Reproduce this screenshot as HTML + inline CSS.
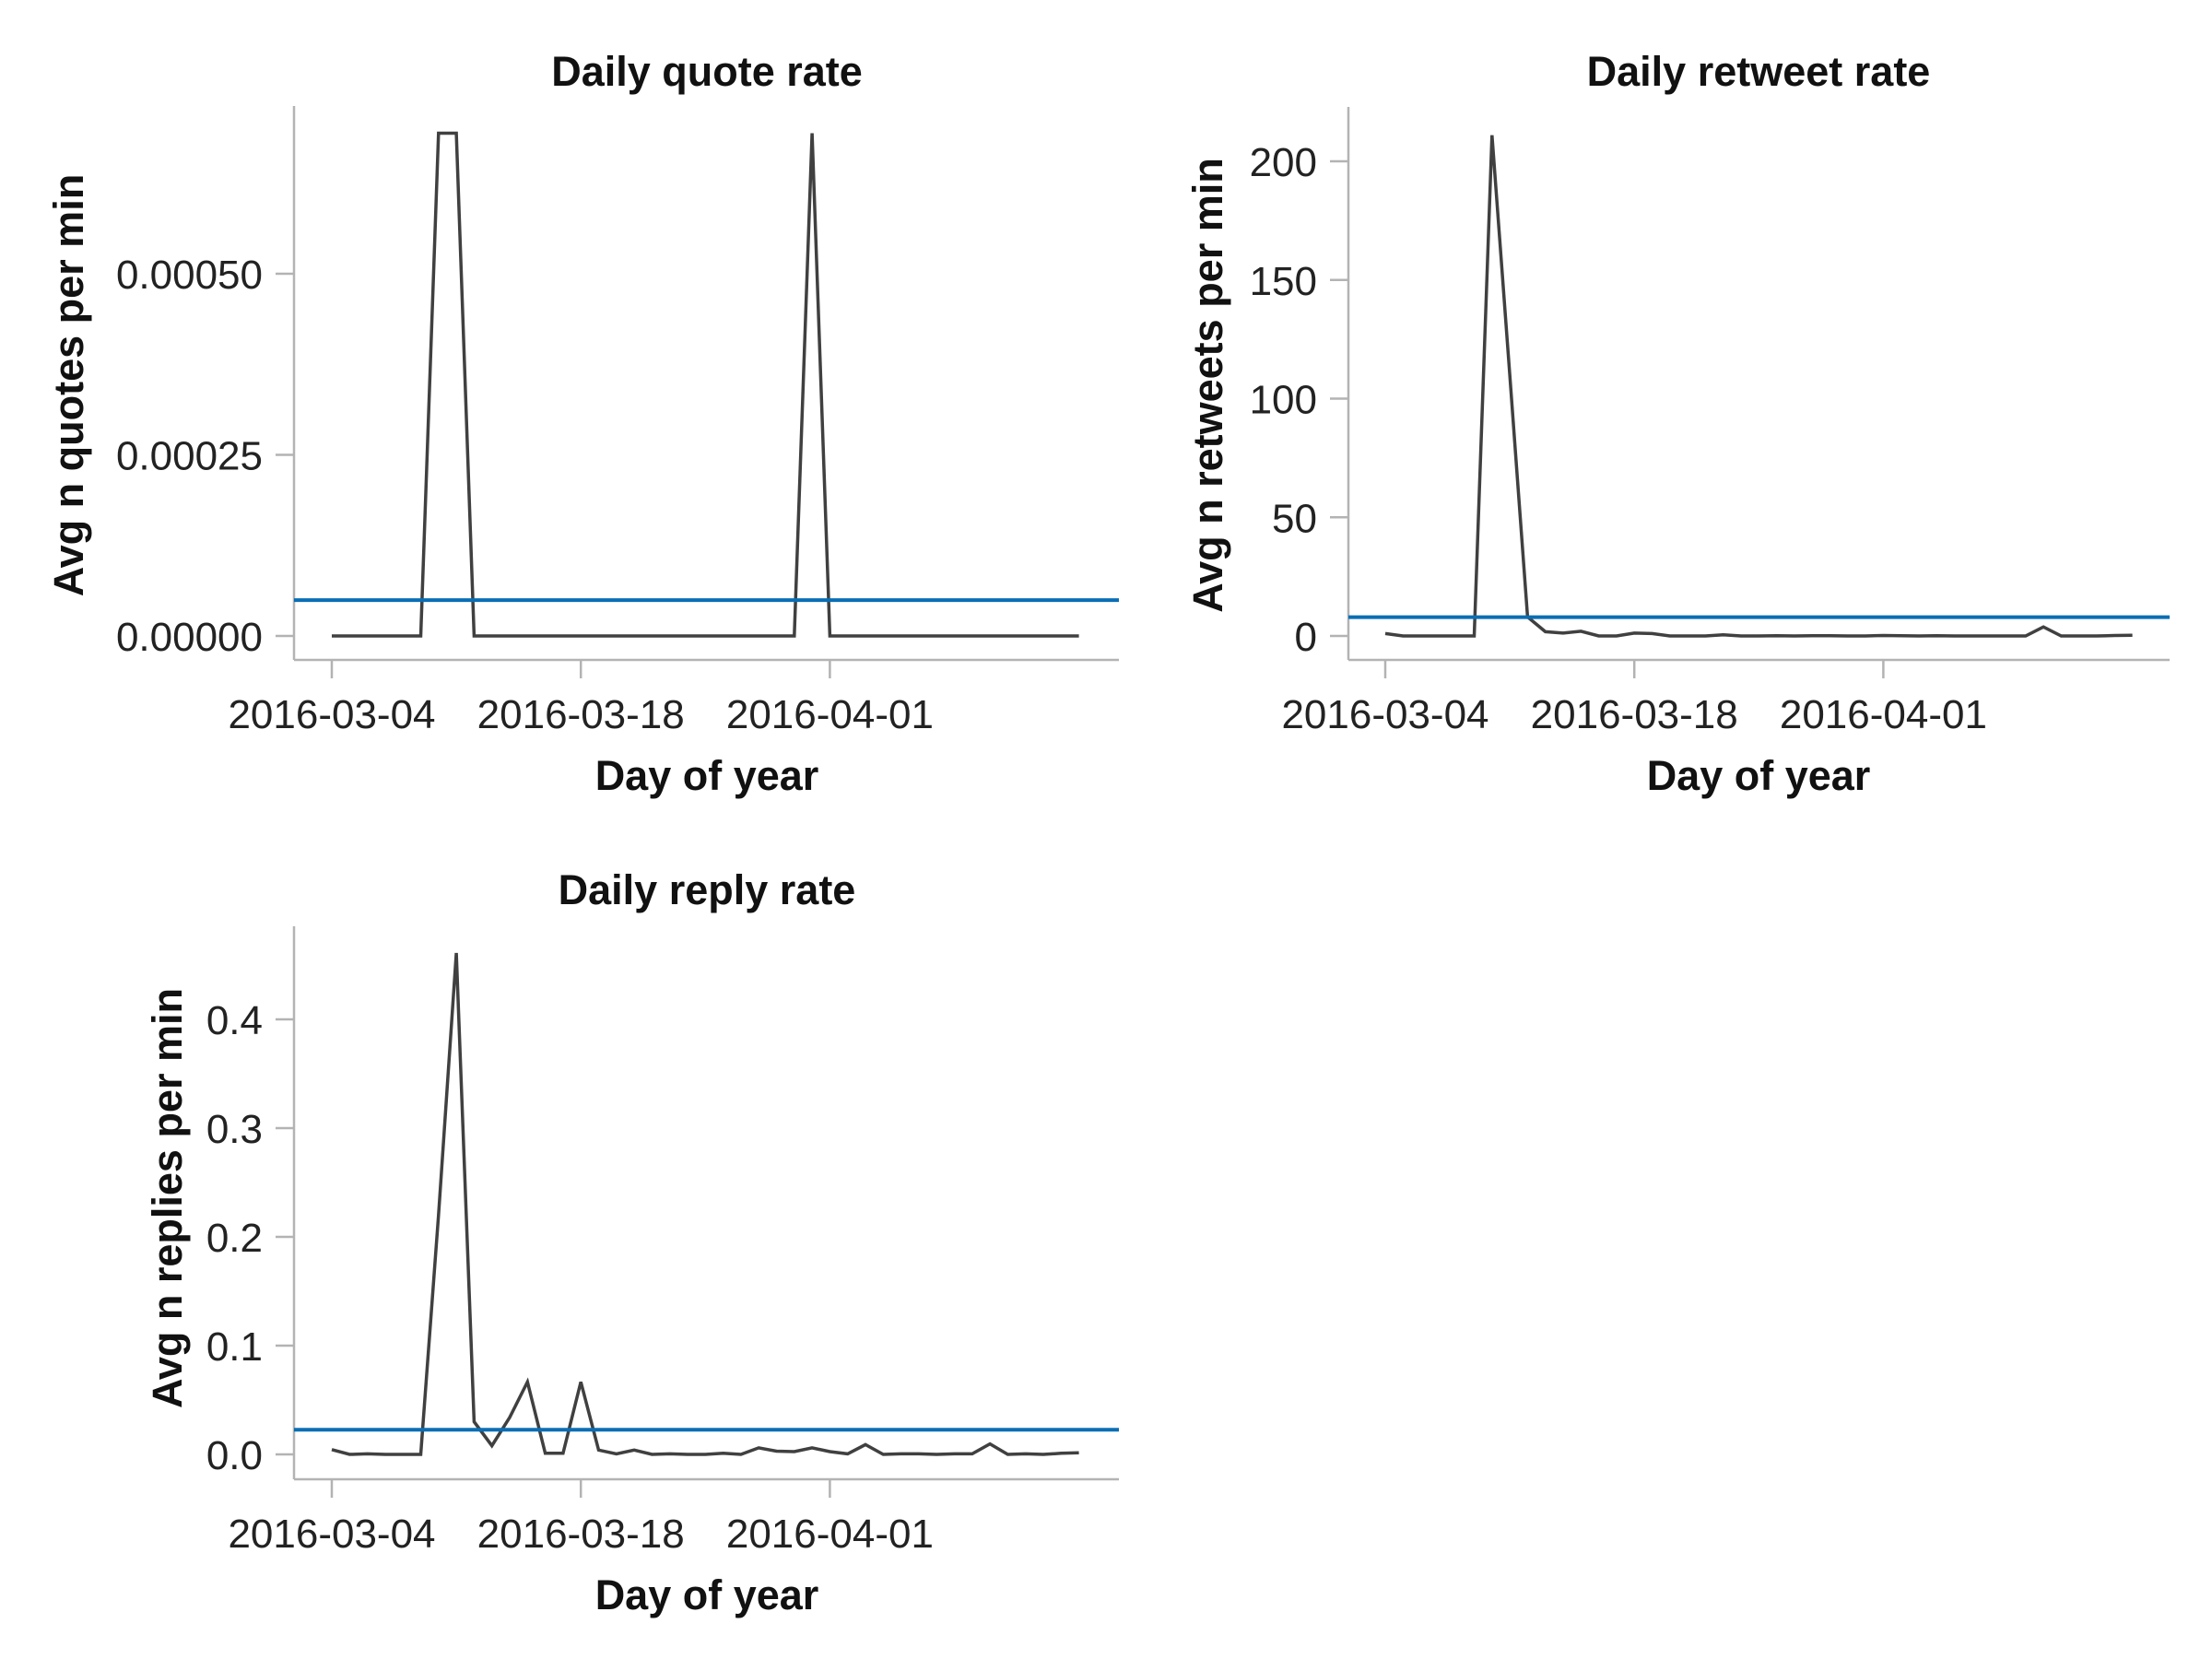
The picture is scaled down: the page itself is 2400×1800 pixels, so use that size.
<!DOCTYPE html>
<html><head><meta charset="utf-8"><style>
html,body{margin:0;padding:0;background:#fff;}
svg{display:block;font-family:"Liberation Sans",sans-serif;}
.tick{font-size:44px;fill:#222;}
.title{font-size:45px;font-weight:bold;fill:#111;}
</style></head><body>
<svg id="chart" width="2400" height="1800" viewBox="0 0 2400 1800" xmlns="http://www.w3.org/2000/svg"></svg>
<script>
const xTickLabels = ["2016-03-04","2016-03-18","2016-04-01"];
const xTickDays = [0,14,28];
const quoteValues = [0,0,0,0,0,0,0.000694,0.000694,0,0,0,0,0,0,0,0,0,0,0,0,0,0,0,0,0,0,0,0.000694,0,0,0,0,0,0,0,0,0,0,0,0,0,0,0];
const quoteMean = 0.0000495;
const quoteTicks = [0,0.00025,0.0005];
const quoteTickLabels = ["0.00000","0.00025","0.00050"];
const retweetValues = [1,0,0,0,0,0,211,110,8,1.8,1.2,2,0,0,1.2,1,0,0,0,0.5,0,0,0.1,0,0.1,0.1,0,0,0.2,0.1,0,0.1,0,0,0,0,0,3.8,0,0,0,0.2,0.3];
const retweetMean = 7.9;
const retweetTicks = [0,50,100,150,200];
const retweetTickLabels = ["0","50","100","150","200"];
const replyValues = [0.0044,0,0.0005,0,0,0,0.22,0.461,0.030,0.008,0.034,0.0666,0.001,0.001,0.0666,0.004,0.0005,0.004,0,0.0005,0,0,0.001,0,0.006,0.003,0.0025,0.006,0.0025,0.0005,0.009,0,0.0005,0.0005,0,0.0005,0.0005,0.0097,0,0.0005,0,0.001,0.0015];
const replyMean = 0.0227;
const replyTicks = [0,0.1,0.2,0.3,0.4];
const replyTickLabels = ["0.0","0.1","0.2","0.3","0.4"];

const svg = document.getElementById('chart');
const NS = 'http://www.w3.org/2000/svg';
function mk(tag, attrs, parent){const e=document.createElementNS(NS,tag);for(const k in attrs)e.setAttribute(k,attrs[k]);parent.appendChild(e);return e;}

function panel(o){
  const g = mk('g',{},svg);
  
  
  const x = d => o.x0 + d*o.dx;
  const y = v => o.y0 - (v - o.t0)/(o.t1 - o.t0)*(o.y0 - o.y1);
  const ya = mk('line',{x1:o.ax,y1:o.top,x2:o.ax,y2:o.bot,stroke:'#b3b3b3','stroke-width':2.5},g);
  
  
  const xa = mk('line',{x1:o.ax,y1:o.bot,x2:o.right,y2:o.bot,stroke:'#b3b3b3','stroke-width':2.5},g);
  
  
  o.ticks.forEach((t,i)=>{
    const yy=y(t);
    const tl = mk('line',{x1:o.ax-20,y1:yy,x2:o.ax,y2:yy,stroke:'#b3b3b3','stroke-width':2.5},g);
    
    
    const tx = mk('text',{x:o.ax-34,y:yy+16,'text-anchor':'end',class:'tick'},g);
    tx.textContent=o.tickLabels[i];
    
    
  });
  xTickDays.forEach((d,i)=>{
    const xx=x(d);
    const tl = mk('line',{x1:xx,y1:o.bot,x2:xx,y2:o.bot+20,stroke:'#b3b3b3','stroke-width':2.5},g);
    
    
    const tx = mk('text',{x:xx,y:o.bot+74,'text-anchor':'middle',class:'tick'},g);
    tx.textContent=xTickLabels[i];
    
    
  });
  const pts = o.values.map((v,i)=>x(i).toFixed(1)+','+y(v).toFixed(1)).join(' ');
  const pl = mk('polyline',{points:pts,fill:'none',stroke:'#404040','stroke-width':3.5,'stroke-linejoin':'miter'},g);
  
  
  const my = y(o.mean);
  const ml = mk('line',{x1:o.ax,y1:my,x2:o.right,y2:my,stroke:'#0a6eb4','stroke-width':4},g);
  
  
  const tt = mk('text',{x:o.tcx,y:o.titleY,'text-anchor':'middle',class:'title'},g);
  tt.textContent=o.title;
  
  
  const xt = mk('text',{x:o.tcx,y:o.bot+141,'text-anchor':'middle',class:'title'},g);
  xt.textContent='Day of year';
  
  
  const yt = mk('text',{x:0,y:0,'text-anchor':'middle',class:'title',transform:`translate(${o.ytx},${o.yty}) rotate(-90)`},g);
  yt.textContent=o.ytitle;
  
  
}

panel({name:'quote-panel',values:quoteValues,mean:quoteMean,ticks:quoteTicks,tickLabels:quoteTickLabels,
  t0:0,t1:0.0005,y0:690,y1:297,x0:360,dx:19.3,ax:319,right:1214,top:115,bot:716,
  title:'Daily quote rate',ytitle:'Avg n quotes per min',tcx:767,titleY:93,ytx:90,yty:418});
panel({name:'retweet-panel',values:retweetValues,mean:retweetMean,ticks:retweetTicks,tickLabels:retweetTickLabels,
  t0:0,t1:200,y0:690,y1:175,x0:1503,dx:19.3,ax:1463,right:2354,top:116,bot:716,
  title:'Daily retweet rate',ytitle:'Avg n retweets per min',tcx:1908,titleY:93,ytx:1326,yty:418});
panel({name:'reply-panel',values:replyValues,mean:replyMean,ticks:replyTicks,tickLabels:replyTickLabels,
  t0:0,t1:0.4,y0:1578,y1:1106,x0:360,dx:19.3,ax:319,right:1214,top:1005,bot:1605,
  title:'Daily reply rate',ytitle:'Avg n replies per min',tcx:767,titleY:981,ytx:197,yty:1300});
</script>
</body></html>
